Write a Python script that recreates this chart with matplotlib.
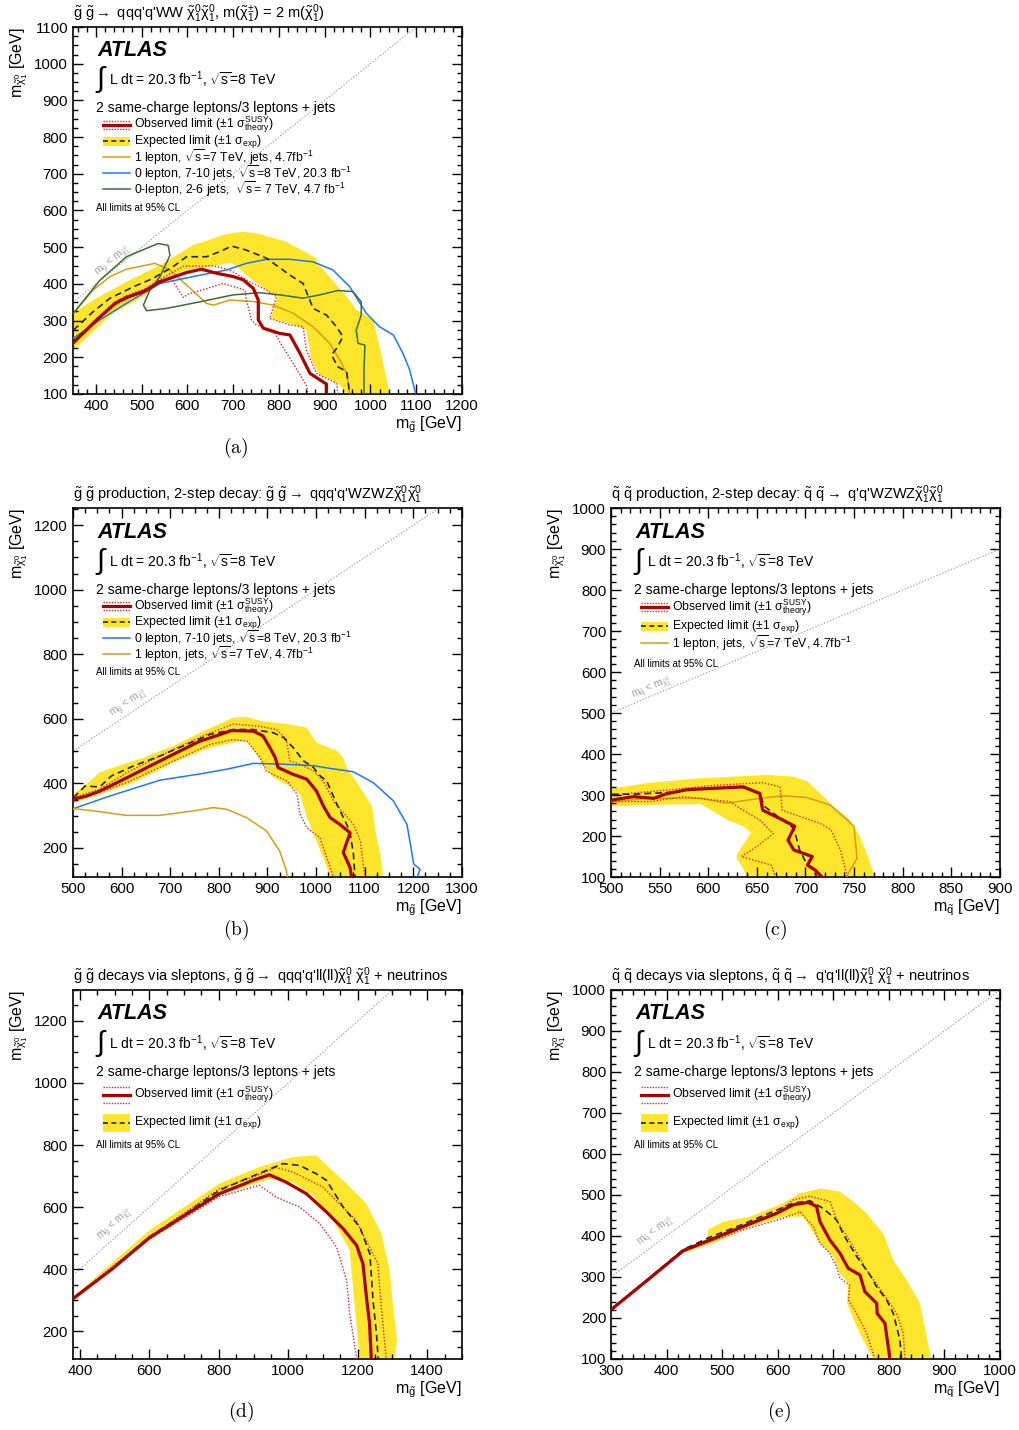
import matplotlib
matplotlib.use('Agg')
from matplotlib import pyplot as plt
from matplotlib.patches import Rectangle, Polygon
from matplotlib.ticker import MultipleLocator

plt.rcParams['font.family'] = ['Liberation Sans', 'DejaVu Sans']
plt.rcParams['mathtext.fontset'] = 'custom'
plt.rcParams['mathtext.rm'] = 'Liberation Sans'
plt.rcParams['mathtext.it'] = 'Liberation Sans'
plt.rcParams['mathtext.bf'] = 'Liberation Sans:bold'

YELLOW = '#fde52c'
RED = '#aa0000'
DOT_RED = '#d3262b'
EXP_COL = '#25253a'
ORANGE = '#d59e14'
BLUE = '#1f78f0'
GREEN = '#3b6e35'
DIAG = '#a0a0a0'

# ---------------- panel (a): gluino -> qqq'q'WW chi chi ----------------
a_obs_x = [351, 402, 442, 467, 507, 540, 598, 631, 664, 700, 722, 744, 755, 755, 766, 802, 824, 846, 868, 904, 904]
a_obs_y = [240, 302, 347, 363, 381, 406, 431, 440, 429, 420, 411, 388, 356, 302, 279, 265, 261, 211, 156, 127, 100]
a_obs_up_x = [351, 402, 442, 467, 507, 540, 591, 657, 693, 729, 773, 795, 788, 780, 824, 853, 860, 882, 926, 929]
a_obs_up_y = [243, 306, 351, 368, 386, 412, 448, 449, 438, 411, 383, 365, 338, 306, 288, 283, 220, 156, 129, 100]
a_obs_dn_x = [351, 402, 442, 467, 507, 540, 565, 591, 602, 678, 726, 729, 740, 751, 788, 806, 831, 860, 864]
a_obs_dn_y = [237, 298, 343, 359, 377, 403, 414, 363, 372, 401, 383, 356, 302, 288, 274, 233, 184, 123, 100]
a_exp_x = [351, 394, 431, 482, 525, 569, 598, 642, 671, 697, 729, 773, 824, 853, 860, 875, 904, 926, 940, 926, 915, 929, 948, 955]
a_exp_y = [274, 324, 361, 392, 415, 447, 474, 474, 488, 503, 492, 470, 424, 401, 379, 333, 315, 283, 256, 224, 206, 174, 161, 100]
a_band_up_x = [351, 394, 467, 540, 613, 686, 722, 758, 816, 882, 882, 948, 970, 1006, 1013, 1028, 1042]
a_band_up_y = [320, 356, 406, 451, 506, 536, 542, 536, 515, 470, 461, 365, 329, 302, 267, 184, 100]
a_band_dn_x = [351, 394, 438, 504, 555, 598, 649, 697, 729, 758, 798, 788, 784, 842, 860, 871, 889, 930, 948]
a_band_dn_y = [220, 270, 320, 365, 415, 438, 447, 458, 424, 397, 363, 338, 306, 285, 274, 193, 152, 129, 100]
a_1lep_x = [351, 394, 431, 467, 529, 562, 598, 642, 657, 693, 744, 788, 831, 875, 911, 933, 948, 955]
a_1lep_y = [320, 383, 420, 440, 456, 438, 397, 347, 342, 356, 352, 342, 320, 283, 238, 193, 156, 100]
a_0lep_x = [351, 409, 467, 540, 613, 686, 729, 773, 824, 875, 918, 955, 991, 1020, 1050, 1071, 1086, 1099]
a_0lep_y = [252, 302, 347, 401, 420, 438, 456, 467, 467, 460, 438, 392, 320, 283, 261, 211, 165, 100]
a_0lep7_x = [351, 409, 467, 536, 558, 562, 554, 540, 518, 504, 511, 554, 627, 700, 758, 802, 853, 889, 929, 962, 980, 980, 969, 973, 988, 986, 986]
a_0lep7_y = [320, 410, 474, 510, 505, 478, 456, 420, 383, 342, 327, 333, 351, 370, 376, 370, 361, 370, 382, 379, 351, 315, 274, 238, 233, 165, 100]

# ---------------- panel (b): gluino 2-step WZWZ ----------------
b_obs_x = [501, 528, 555, 610, 665, 713, 761, 802, 826, 871, 891, 905, 916, 922, 953, 981, 1001, 1015, 1029, 1049, 1070, 1063, 1056, 1070, 1073]
b_obs_y = [351, 361, 376, 417, 459, 495, 531, 551, 564, 562, 547, 511, 480, 449, 428, 413, 376, 330, 294, 273, 247, 217, 186, 139, 110]
b_obs_up_x = [501, 555, 610, 713, 775, 830, 884, 919, 939, 946, 967, 995, 1015, 1036, 1077, 1091, 1098, 1101]
b_obs_up_y = [356, 382, 433, 510, 552, 584, 577, 567, 536, 470, 459, 439, 407, 345, 273, 222, 139, 110]
b_obs_dn_x = [501, 610, 713, 782, 830, 858, 885, 898, 940, 961, 967, 981, 1008, 1022, 1036]
b_obs_dn_y = [346, 402, 474, 521, 536, 531, 480, 438, 408, 366, 304, 263, 232, 170, 110]
b_exp_x = [501, 525, 555, 579, 624, 679, 734, 782, 830, 871, 912, 933, 953, 974, 995, 1005, 1022, 1043, 1063, 1070, 1077, 1080]
b_exp_y = [356, 392, 389, 423, 454, 485, 521, 552, 567, 567, 557, 542, 511, 470, 449, 428, 407, 335, 273, 247, 180, 110]
b_band_up_x = [501, 528, 555, 583, 645, 713, 768, 830, 858, 885, 940, 981, 1001, 1043, 1056, 1063, 1091, 1115, 1122, 1132, 1139]
b_band_up_y = [367, 398, 434, 449, 480, 521, 562, 604, 606, 594, 584, 573, 526, 501, 480, 449, 387, 330, 253, 180, 110]
b_band_dn_x = [501, 555, 624, 713, 782, 844, 858, 878, 892, 912, 953, 967, 981, 995, 1015, 1029]
b_band_dn_y = [340, 366, 402, 469, 511, 531, 531, 490, 454, 418, 387, 366, 295, 243, 170, 110]
b_0lep_x = [501, 576, 679, 768, 816, 871, 926, 995, 1022, 1077, 1118, 1159, 1187, 1201, 1214, 1208]
b_0lep_y = [322, 361, 410, 431, 444, 462, 460, 455, 448, 436, 402, 346, 273, 150, 134, 110]
b_1lep_x = [501, 542, 610, 679, 748, 789, 816, 857, 898, 925, 939, 941]
b_1lep_y = [322, 315, 301, 301, 315, 325, 320, 294, 253, 191, 129, 110]

# ---------------- panel (c): squark 2-step WZWZ ----------------
c_obs_x = [501, 523, 544, 557, 578, 602, 636, 653, 656, 670, 689, 682, 688, 707, 702, 710, 717]
c_obs_y = [288, 296, 292, 303, 313, 316, 320, 304, 263, 247, 224, 190, 166, 150, 129, 117, 100]
c_obs_up_x = [501, 557, 608, 656, 674, 676, 695, 715, 726, 736, 743]
c_obs_up_y = [300, 312, 324, 330, 320, 263, 247, 231, 216, 166, 100]
c_obs_dn_x = [501, 540, 574, 622, 636, 653, 667, 650, 634, 653, 665, 669]
c_obs_dn_y = [284, 284, 296, 284, 263, 239, 206, 174, 150, 137, 129, 100]
c_exp_x = [501, 523, 557, 591, 636, 653, 658, 674, 688, 694, 701, 708, 712]
c_exp_y = [302, 302, 306, 314, 319, 302, 272, 243, 219, 166, 133, 117, 100]
c_band_up_x = [501, 540, 592, 626, 660, 688, 702, 715, 729, 746, 756, 763, 770, 770]
c_band_up_y = [316, 330, 341, 345, 349, 345, 333, 304, 272, 239, 198, 158, 109, 100]
c_band_dn_x = [501, 540, 592, 603, 620, 637, 644, 630, 629, 637, 639]
c_band_dn_y = [272, 276, 278, 263, 239, 223, 207, 158, 146, 117, 100]
c_1lep_x = [501, 540, 592, 619, 653, 677, 701, 725, 743, 750, 753, 744, 743]
c_1lep_y = [284, 292, 292, 280, 292, 298, 294, 276, 239, 223, 145, 109, 100]

# ---------------- panel (d): gluino via sleptons ----------------
d_obs_x = [380, 494, 600, 706, 802, 850, 898, 946, 994, 1052, 1110, 1158, 1197, 1215, 1225, 1234, 1239]
d_obs_y = [304, 401, 501, 576, 643, 664, 686, 704, 680, 643, 584, 530, 476, 417, 310, 224, 110]
d_obs_up_x = [380, 600, 802, 898, 965, 1013, 1099, 1195, 1258, 1268, 1282]
d_obs_up_y = [306, 503, 659, 697, 727, 713, 665, 557, 417, 277, 110]
d_obs_dn_x = [380, 600, 802, 917, 965, 1033, 1091, 1139, 1168, 1177, 1197]
d_obs_dn_y = [302, 497, 634, 670, 632, 600, 546, 471, 363, 256, 110]
d_exp_x = [380, 494, 600, 706, 802, 879, 937, 985, 1033, 1081, 1110, 1158, 1206, 1235, 1244, 1254, 1259]
d_exp_y = [306, 403, 504, 580, 654, 691, 718, 740, 734, 707, 686, 600, 535, 449, 299, 191, 110]
d_band_up_x = [380, 600, 802, 917, 1013, 1081, 1120, 1158, 1225, 1268, 1292, 1302, 1313, 1306]
d_band_up_y = [310, 525, 676, 729, 761, 767, 725, 686, 611, 514, 396, 277, 170, 110]
d_band_dn_x = [380, 600, 802, 946, 1013, 1071, 1129, 1177, 1187, 1196, 1206]
d_band_dn_y = [299, 492, 638, 691, 680, 638, 557, 460, 331, 224, 110]

# ---------------- panel (e): squark via sleptons ----------------
e_obs_x = [300, 370, 430, 478, 538, 598, 628, 655, 670, 676, 694, 712, 727, 748, 757, 778, 779, 793, 802]
e_obs_y = [220, 297, 364, 390, 423, 455, 476, 482, 472, 435, 390, 358, 321, 305, 264, 236, 211, 187, 100]
e_obs_up_x = [300, 430, 538, 598, 628, 658, 694, 700, 706, 736, 760, 790, 814, 826, 829]
e_obs_up_y = [222, 366, 426, 458, 488, 497, 484, 463, 439, 374, 317, 260, 211, 163, 100]
e_obs_dn_x = [300, 430, 538, 610, 640, 664, 676, 694, 706, 712, 730, 727, 742, 760, 775]
e_obs_dn_y = [219, 362, 415, 443, 459, 423, 382, 358, 325, 297, 280, 244, 211, 163, 100]
e_exp_x = [300, 430, 478, 538, 598, 628, 658, 682, 706, 719, 742, 766, 778, 796, 808, 820, 823]
e_exp_y = [220, 367, 397, 429, 463, 480, 486, 467, 439, 402, 350, 305, 276, 244, 211, 146, 100]
e_band_up_x = [430, 472, 475, 502, 550, 610, 640, 677, 712, 736, 760, 790, 808, 832, 856, 874, 877]
e_band_up_y = [370, 390, 415, 435, 447, 480, 504, 516, 508, 484, 455, 406, 341, 293, 236, 114, 100]
e_band_dn_x = [430, 490, 550, 610, 646, 676, 700, 712, 727, 725, 742, 760, 772]
e_band_dn_y = [358, 386, 423, 447, 447, 382, 350, 309, 285, 236, 179, 130, 100]

OBS_LABEL = r'Observed limit ($\pm$1 $\sigma^{\mathrm{SUSY}}_{\mathrm{theory}}$)'
EXP_LABEL = r'Expected limit ($\pm$1 $\sigma_{\mathrm{exp}}$)'
ONE_LEP_A = r'1 lepton, $\sqrt{s}$=7 TeV, jets, 4.7fb$^{-1}$'
ONE_LEP_B = r'1 lepton, jets, $\sqrt{s}$=7 TeV, 4.7fb$^{-1}$'
ZERO_LEP = r'0 lepton, 7-10 jets, $\sqrt{s}$=8 TeV, 20.3 fb$^{-1}$'
ZERO_LEP7 = r'0-lepton, 2-6 jets,  $\sqrt{s}$= 7 TeV, 4.7 fb$^{-1}$'


def setup_axes(ax, xlim, ylim, xmaj, xmin, ymaj, ymin, xname):
    """Axis ranges, ROOT-like inward ticks and axis titles."""
    ax.set_xlim(*xlim)
    ax.set_ylim(*ylim)
    ax.xaxis.set_major_locator(MultipleLocator(xmaj))
    ax.xaxis.set_minor_locator(MultipleLocator(xmin))
    ax.yaxis.set_major_locator(MultipleLocator(ymaj))
    ax.yaxis.set_minor_locator(MultipleLocator(ymin))
    ax.tick_params(which='both', direction='in', top=True, right=True, labelsize=10.8, width=1)
    ax.tick_params(which='major', length=7)
    ax.tick_params(which='minor', length=3.5)
    for sp in ax.spines.values():
        sp.set_linewidth(1.2)
    ax.text(1.0, -0.056, r'm$_{\tilde{%s}}$ [GeV]' % xname, transform=ax.transAxes,
            ha='right', va='top', fontsize=11.5)
    ax.text(-0.138, 1.0, r'm$_{\tilde{\chi}^{0}_{1}}$ [GeV]', transform=ax.transAxes,
            ha='center', va='top', rotation=90, fontsize=11.5)


def draw_band(ax, ux, uy, dx, dy):
    """Yellow expected +-1 sigma band as one closed polygon."""
    pts = list(zip(ux, uy)) + list(zip(dx[::-1], dy[::-1]))
    ax.add_patch(Polygon(pts, closed=True, facecolor=YELLOW, edgecolor='none', zorder=1))


def draw_limits(ax, ox, oy, oux, ouy, odx, ody, ex, ey):
    ax.plot(oux, ouy, color=DOT_RED, lw=1.0, ls=(0, (1, 1.3)), zorder=4)
    ax.plot(odx, ody, color=DOT_RED, lw=1.0, ls=(0, (1, 1.3)), zorder=4)
    ax.plot(ex, ey, color=EXP_COL, lw=1.2, ls=(0, (4, 2.5)), zorder=5)
    ax.plot(ox, oy, color=RED, lw=2.3, zorder=6)


def draw_diag(ax, lo, hi, lx, ly, sq):
    ax.plot([lo, hi], [lo, hi], color=DIAG, lw=0.9, ls=(0, (1, 1.5)), zorder=2)
    ax.text(lx, ly, r'm$_{\tilde{%s}}$ < m$_{\tilde{\chi}^{0}_{1}}$' % sq, color=DIAG, fontsize=7.5,
            rotation=45, transform_rotates_text=True, rotation_mode='anchor',
            ha='center', va='center', zorder=2)


def draw_header(ax, title, ys):
    ax.text(0.0, 1.006, title, transform=ax.transAxes, ha='left', va='bottom', fontsize=10.5)
    ax.text(0.062, ys[0], 'ATLAS', transform=ax.transAxes, ha='left', va='center',
            fontsize=15.5, fontweight='bold', fontstyle='italic')
    ax.text(0.056, ys[1], r'$\int$', transform=ax.transAxes, ha='left', va='center', fontsize=21)
    ax.text(0.092, ys[1], r'L dt = 20.3 fb$^{-1}$, $\sqrt{s}$=8 TeV', transform=ax.transAxes,
            ha='left', va='center', fontsize=10)
    ax.text(0.058, ys[2], '2 same-charge leptons/3 leptons + jets', transform=ax.transAxes,
            ha='left', va='center', fontsize=10)


def draw_legend(ax, rows, y_cl, h):
    """rows: list of (y, kind, label); kind is 'obs', 'exp' or a line colour."""
    x0, x1, xt = 0.077, 0.147, 0.157
    tr = ax.transAxes
    for y, kind, label in rows:
        if kind == 'obs':
            ax.plot([x0, x1], [y + h, y + h], color=DOT_RED, lw=1.0, ls=(0, (1, 1)), transform=tr)
            ax.plot([x0, x1], [y - h, y - h], color=DOT_RED, lw=1.0, ls=(0, (1, 1)), transform=tr)
            ax.plot([x0, x1], [y, y], color=RED, lw=2.3, transform=tr)
        elif kind == 'exp':
            ax.add_patch(Rectangle((x0, y - h * 1.1), x1 - x0, 2.2 * h, transform=tr,
                                   facecolor=YELLOW, edgecolor='none'))
            ax.plot([x0, x1], [y, y], color=EXP_COL, lw=1.2, ls=(0, (3, 2)), transform=tr)
        else:
            ax.plot([x0, x1], [y, y], color=kind, lw=1.1, transform=tr)
        ax.text(xt, y, label, transform=tr, ha='left', va='center', fontsize=8.8)
    ax.text(0.058, y_cl, 'All limits at 95% CL', transform=tr, ha='left', va='center', fontsize=7)


fig = plt.figure(figsize=(10.19, 14.30), dpi=100)
W = 0.3817
ax_a = fig.add_axes([0.0716, 0.7245, W, 0.2566])
ax_b = fig.add_axes([0.0716, 0.3867, W, 0.2580])
ax_c = fig.add_axes([0.5996, 0.3867, W, 0.2580])
ax_d = fig.add_axes([0.0716, 0.0497, W, 0.2580])
ax_e = fig.add_axes([0.5996, 0.0497, W, 0.2580])

# (a)
ax = ax_a
setup_axes(ax, (350, 1200), (100, 1100), 100, 20, 100, 25, 'g')
draw_band(ax, a_band_up_x, a_band_up_y, a_band_dn_x, a_band_dn_y)
draw_diag(ax, 350, 1100, 438, 462, 'g')
ax.plot(a_1lep_x, a_1lep_y, color=ORANGE, lw=1.1, zorder=3)
ax.plot(a_0lep_x, a_0lep_y, color=BLUE, lw=1.1, zorder=3)
ax.plot(a_0lep7_x, a_0lep7_y, color=GREEN, lw=1.1, zorder=3)
draw_limits(ax, a_obs_x, a_obs_y, a_obs_up_x, a_obs_up_y, a_obs_dn_x, a_obs_dn_y, a_exp_x, a_exp_y)
draw_header(ax, r'$\tilde{g}\ \tilde{g} \rightarrow$ qqq'"'"r'q'"'"r'WW $\tilde{\chi}^{0}_{1}\tilde{\chi}^{0}_{1}$, m($\tilde{\chi}^{\pm}_{1}$) = 2 m($\tilde{\chi}^{0}_{1}$)',
            [0.937, 0.856, 0.779])
draw_legend(ax, [(0.733, 'obs', OBS_LABEL), (0.689, 'exp', EXP_LABEL), (0.646, ORANGE, ONE_LEP_A),
                 (0.602, BLUE, ZERO_LEP), (0.559, GREEN, ZERO_LEP7)], 0.507, 0.011)

# (b)
ax = ax_b
setup_axes(ax, (500, 1300), (110, 1253), 100, 25, 200, 50, 'g')
draw_band(ax, b_band_up_x, b_band_up_y, b_band_dn_x, b_band_dn_y)
draw_diag(ax, 500, 1253, 614, 648, 'g')
ax.plot(b_0lep_x, b_0lep_y, color=BLUE, lw=1.1, zorder=3)
ax.plot(b_1lep_x, b_1lep_y, color=ORANGE, lw=1.1, zorder=3)
draw_limits(ax, b_obs_x, b_obs_y, b_obs_up_x, b_obs_up_y, b_obs_dn_x, b_obs_dn_y, b_exp_x, b_exp_y)
draw_header(ax, r'$\tilde{g}\ \tilde{g}$ production, 2-step decay: $\tilde{g}\ \tilde{g} \rightarrow$ qqq'"'"r'q'"'"r'WZWZ$\tilde{\chi}^{0}_{1}\tilde{\chi}^{0}_{1}$',
            [0.935, 0.854, 0.778])
draw_legend(ax, [(0.734, 'obs', OBS_LABEL), (0.691, 'exp', EXP_LABEL), (0.648, BLUE, ZERO_LEP),
                 (0.604, ORANGE, ONE_LEP_B)], 0.556, 0.011)

# (c)
ax = ax_c
setup_axes(ax, (500, 900), (100, 1000), 50, 10, 100, 20, 'q')
draw_band(ax, c_band_up_x, c_band_up_y, c_band_dn_x, c_band_dn_y)
draw_diag(ax, 500, 900, 542, 562, 'q')
ax.plot(c_1lep_x, c_1lep_y, color=ORANGE, lw=1.1, zorder=3)
draw_limits(ax, c_obs_x, c_obs_y, c_obs_up_x, c_obs_up_y, c_obs_dn_x, c_obs_dn_y, c_exp_x, c_exp_y)
draw_header(ax, r'$\tilde{q}\ \tilde{q}$ production, 2-step decay: $\tilde{q}\ \tilde{q} \rightarrow$ q'"'"r'q'"'"r'WZWZ$\tilde{\chi}^{0}_{1}\tilde{\chi}^{0}_{1}$',
            [0.935, 0.854, 0.778])
draw_legend(ax, [(0.731, 'obs', OBS_LABEL), (0.680, 'exp', EXP_LABEL), (0.634, ORANGE, ONE_LEP_B)],
            0.577, 0.011)

# (d)
ax = ax_d
setup_axes(ax, (380, 1500), (110, 1300), 200, 50, 200, 50, 'g')
draw_band(ax, d_band_up_x, d_band_up_y, d_band_dn_x, d_band_dn_y)
draw_diag(ax, 380, 1300, 500, 543, 'g')
draw_limits(ax, d_obs_x, d_obs_y, d_obs_up_x, d_obs_up_y, d_obs_dn_x, d_obs_dn_y, d_exp_x, d_exp_y)
draw_header(ax, r'$\tilde{g}\ \tilde{g}$ decays via sleptons, $\tilde{g}\ \tilde{g} \rightarrow$ qqq'"'"r'q'"'"r'll(ll)$\tilde{\chi}^{0}_{1}$ $\tilde{\chi}^{0}_{1}$ + neutrinos',
            [0.935, 0.854, 0.778])
draw_legend(ax, [(0.715, 'obs', OBS_LABEL), (0.640, 'exp', EXP_LABEL)], 0.580, 0.022)

# (e)
ax = ax_e
setup_axes(ax, (300, 1000), (100, 1000), 100, 20, 100, 20, 'q')
draw_band(ax, e_band_up_x, e_band_up_y, e_band_dn_x, e_band_dn_y)
draw_diag(ax, 300, 1000, 381, 412, 'q')
draw_limits(ax, e_obs_x, e_obs_y, e_obs_up_x, e_obs_up_y, e_obs_dn_x, e_obs_dn_y, e_exp_x, e_exp_y)
draw_header(ax, r'$\tilde{q}\ \tilde{q}$ decays via sleptons, $\tilde{q}\ \tilde{q} \rightarrow$ q'"'"r'q'"'"r'll(ll)$\tilde{\chi}^{0}_{1}$ $\tilde{\chi}^{0}_{1}$ + neutrinos',
            [0.935, 0.854, 0.778])
draw_legend(ax, [(0.715, 'obs', OBS_LABEL), (0.640, 'exp', EXP_LABEL)], 0.580, 0.022)

for x, y, lab in [(0.2316, 0.6867, '(a)'), (0.2316, 0.3497, '(b)'), (0.7605, 0.3497, '(c)'),
                  (0.2365, 0.0126, '(d)'), (0.7645, 0.0126, '(e)')]:
    fig.text(x, y, r'$\mathrm{%s}$' % lab, ha='center', va='center', fontsize=14, math_fontfamily='cm')

fig.savefig('out.png', dpi=100)
